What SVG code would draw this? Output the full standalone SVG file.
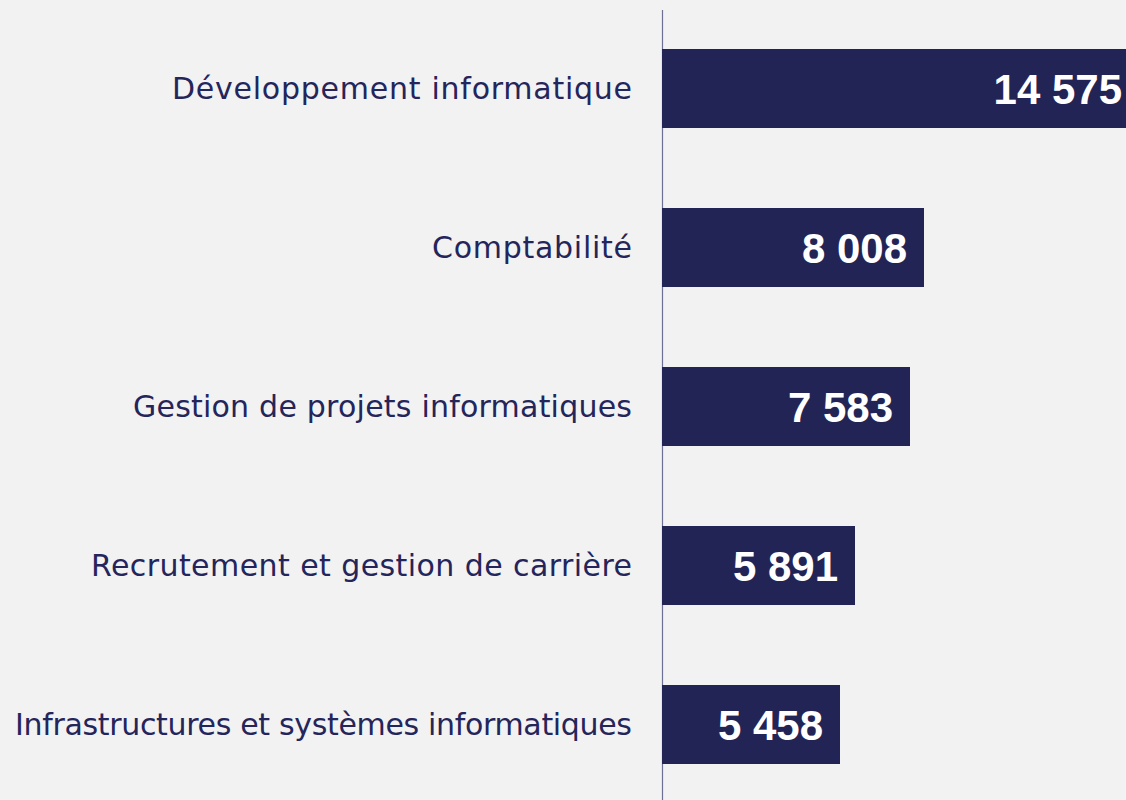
<svg xmlns="http://www.w3.org/2000/svg" width="1126" height="800" viewBox="0 0 1126 800">
<style>
.lbl{font-family:"DejaVu Sans","Liberation Sans",sans-serif;font-size:30px;fill:#24255a;text-anchor:end}
.val{font-family:"Liberation Sans",Arial,sans-serif;font-size:42px;font-weight:bold;fill:#ffffff;text-anchor:end}
.bar{fill:#232456}
</style>
<rect width="1126" height="800" fill="#f2f2f2"/>
<g id="axis"><line x1="662.5" y1="10" x2="662.5" y2="800" stroke="#6e6f94" stroke-width="1.2"/></g>
<g id="bar1"><rect class="bar" x="662" y="49" width="470" height="79"/><text class="lbl" x="632" y="99" textLength="460">Développement informatique</text><text class="val" x="1122" y="104">14 575</text></g>
<g id="bar2"><rect class="bar" x="662" y="208" width="262" height="79"/><text class="lbl" x="632" y="258" textLength="200">Comptabilité</text><text class="val" x="907" y="263">8 008</text></g>
<g id="bar3"><rect class="bar" x="662" y="367" width="248" height="79"/><text class="lbl" x="632" y="417" textLength="499">Gestion de projets informatiques</text><text class="val" x="893" y="422">7 583</text></g>
<g id="bar4"><rect class="bar" x="662" y="526" width="193" height="79"/><text class="lbl" x="632" y="576" textLength="541">Recrutement et gestion de carrière</text><text class="val" x="838" y="581">5 891</text></g>
<g id="bar5"><rect class="bar" x="662" y="685" width="178" height="79"/><text class="lbl" x="632" y="735" textLength="617">Infrastructures et systèmes informatiques</text><text class="val" x="823" y="740">5 458</text></g>
</svg>
